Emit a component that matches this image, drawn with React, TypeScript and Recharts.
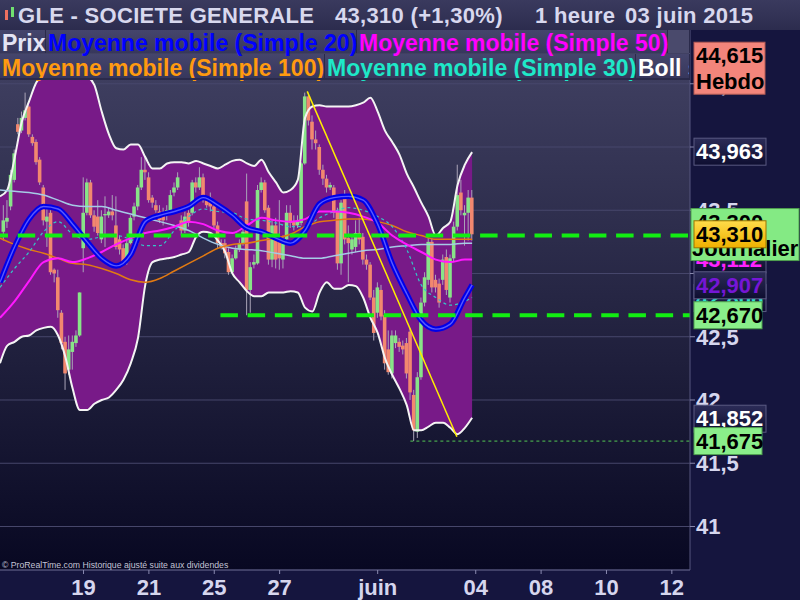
import React from 'react';
import { ComposedChart, XAxis, YAxis, CartesianGrid, Bar, Line, Area, ReferenceLine } from 'recharts';

// hourly candles, first one sits at bar index 1
const candleFirst = 1;
const candleOpen = [
  43.33, 43.41, 43.53, 43.74, 44.18, 44.13, 44.23, 44.32, 44.08, 44.04,
  43.90, 43.68, 43.41, 43.48, 43.03, 42.97, 42.69, 42.46, 42.24, 42.38,
  42.45, 42.51, 43.20, 43.48, 43.72, 43.46, 43.45, 43.27, 43.46, 43.46,
  43.49, 43.38, 43.27, 43.20, 43.09, 43.24, 43.45, 43.53, 43.68, 43.82,
  43.76, 43.60, 43.54, 43.49, 43.48, 43.46, 43.50, 43.64, 43.68, 43.42,
  43.34, 43.48, 43.48, 43.72, 43.68, 43.76, 43.58, 43.60, 43.53, 43.38,
  43.24, 43.24, 43.17, 43.01, 43.12, 43.19, 43.24, 43.57, 42.87, 43.07,
  43.08, 43.66, 43.72, 43.52, 43.11, 43.38, 43.26, 43.11, 43.27, 43.48,
  43.41, 43.38, 43.40, 43.87, 44.40, 44.20, 44.06, 44.00, 43.82, 43.75,
  43.68, 43.68, 43.49, 43.08, 43.60, 43.28, 43.19, 43.21, 43.32, 43.29,
  43.11, 43.07, 42.81, 42.69, 42.87, 42.67, 42.40, 42.21, 42.45, 42.46,
  42.43, 42.45, 42.54, 42.04, 41.75, 42.18, 42.77, 42.95, 43.25, 42.95,
  42.92, 42.95, 43.13, 42.81, 43.12, 43.37, 43.64, 43.46, 43.48, 43.60,
];
const candleHigh = [
  43.54, 43.58, 43.82, 43.98, 44.23, 44.28, 44.43, 44.33, 44.10, 44.06,
  43.92, 43.70, 43.53, 43.50, 43.04, 43.03, 42.71, 42.50, 42.51, 42.51,
  42.55, 42.85, 43.76, 43.75, 43.74, 43.50, 43.58, 43.50, 43.61, 43.52,
  43.62, 43.61, 43.30, 43.23, 43.27, 43.46, 43.56, 43.70, 43.92, 43.92,
  43.80, 43.62, 43.58, 43.54, 43.52, 43.54, 43.66, 43.72, 43.80, 43.46,
  43.49, 43.50, 43.74, 43.76, 43.84, 43.79, 43.61, 43.64, 43.56, 43.41,
  43.27, 43.27, 43.20, 43.15, 43.22, 43.27, 43.36, 43.79, 43.09, 43.15,
  43.70, 43.76, 43.74, 43.54, 43.43, 43.44, 43.58, 43.30, 43.54, 43.54,
  43.46, 43.46, 43.88, 44.43, 44.41, 44.25, 44.13, 44.02, 43.86, 43.78,
  43.72, 43.70, 43.52, 43.58, 43.66, 43.38, 43.30, 43.42, 43.44, 43.32,
  43.15, 43.09, 42.87, 42.93, 42.91, 42.71, 42.55, 42.55, 42.55, 42.49,
  42.47, 42.49, 42.57, 42.08, 42.22, 42.81, 43.01, 43.28, 43.28, 42.99,
  42.96, 43.15, 43.19, 43.15, 43.41, 43.86, 43.74, 43.54, 43.66, 43.66,
];
const candleLow = [
  43.26, 43.36, 43.50, 43.72, 44.10, 44.11, 44.21, 44.08, 44.01, 43.86,
  43.70, 43.38, 43.21, 42.99, 42.93, 42.65, 42.40, 42.08, 42.20, 42.24,
  42.42, 42.50, 43.01, 43.46, 43.44, 43.33, 43.30, 43.24, 43.21, 43.44,
  43.42, 43.19, 43.15, 43.06, 43.07, 43.23, 43.42, 43.50, 43.66, 43.74,
  43.56, 43.52, 43.48, 43.40, 43.38, 43.42, 43.49, 43.61, 43.66, 43.30,
  43.32, 43.37, 43.46, 43.64, 43.66, 43.56, 43.52, 43.49, 43.36, 43.20,
  43.19, 43.12, 42.99, 43.00, 43.11, 43.17, 43.22, 42.67, 42.69, 43.04,
  43.07, 43.64, 43.48, 43.07, 43.05, 43.04, 43.03, 43.04, 43.23, 43.36,
  43.34, 43.36, 43.38, 43.86, 44.17, 43.98, 43.98, 43.78, 43.70, 43.64,
  43.66, 43.44, 43.03, 42.99, 43.23, 42.93, 43.15, 43.17, 43.23, 43.07,
  43.03, 42.79, 42.47, 42.65, 42.63, 42.24, 42.20, 42.17, 42.41, 42.38,
  42.36, 42.17, 42.00, 41.675, 41.70, 42.16, 42.74, 42.91, 42.85, 42.85,
  42.73, 42.91, 42.83, 42.77, 43.09, 43.34, 43.46, 43.22, 43.26, 43.26,
];
const candleClose = [
  43.42, 43.44, 43.78, 43.95, 44.12, 44.23, 44.29, 44.10, 44.03, 43.88,
  43.72, 43.42, 43.45, 43.01, 43.00, 42.71, 42.45, 42.21, 42.40, 42.46,
  42.51, 42.85, 43.48, 43.72, 43.46, 43.37, 43.32, 43.45, 43.47, 43.49,
  43.46, 43.21, 43.19, 43.08, 43.24, 43.44, 43.53, 43.68, 43.82, 43.80,
  43.58, 43.56, 43.50, 43.42, 43.42, 43.50, 43.62, 43.68, 43.76, 43.34,
  43.45, 43.40, 43.72, 43.68, 43.76, 43.58, 43.54, 43.53, 43.38, 43.24,
  43.21, 43.16, 43.01, 43.12, 43.19, 43.24, 43.33, 42.87, 43.05, 43.09,
  43.66, 43.72, 43.50, 43.11, 43.38, 43.11, 43.12, 43.27, 43.48, 43.40,
  43.38, 43.41, 43.87, 44.40, 44.21, 44.06, 44.03, 43.82, 43.75, 43.68,
  43.70, 43.48, 43.08, 43.56, 43.27, 43.24, 43.27, 43.32, 43.27, 43.11,
  43.07, 42.81, 42.53, 42.89, 42.66, 42.29, 42.22, 42.51, 42.51, 42.42,
  42.40, 42.21, 42.06, 41.76, 42.18, 42.77, 42.97, 43.25, 42.89, 42.89,
  42.77, 43.11, 42.87, 43.12, 43.37, 43.62, 43.50, 43.48, 43.60, 43.31,
];

// bollinger bands, sampled every 2 bars
const bandIdx = [
  0, 2, 4, 6, 8, 10, 12, 14, 16, 18, 20, 22, 24, 26, 28, 30, 32, 34, 36, 38, 40, 42,
  44, 46, 48, 50, 52, 54, 56, 58, 60, 62, 64, 66, 68, 70, 72, 74, 76, 78, 80, 82, 84,
  86, 88, 90, 92, 94, 96, 98, 100, 102, 104, 106, 108, 110, 112, 114, 116, 118, 120,
  122, 124, 126, 128, 130,
];
const bandUpper = [
  43.61, 43.66, 43.91, 44.20, 44.36, 44.51, 44.57, 44.61, 44.63, 44.63,
  44.61, 44.59, 44.56, 44.49, 44.28, 44.10, 43.99, 43.98, 44.02, 44.02,
  43.92, 43.83, 43.83, 43.87, 43.88, 43.88, 43.87, 43.89, 43.87, 43.85,
  43.83, 43.86, 43.89, 43.90, 43.87, 43.85, 43.90, 43.80, 43.72, 43.64,
  43.66, 43.74, 44.23, 44.32, 44.33, 44.32, 44.32, 44.32, 44.32, 44.33,
  44.35, 44.39, 44.28, 44.13, 44.04, 43.94, 43.79, 43.68, 43.56, 43.45,
  43.30, 43.36, 43.41, 43.70, 43.86, 43.96,
];
const bandLower = [
  42.29, 42.43, 42.46, 42.50, 42.51, 42.55, 42.57, 42.58, 42.51, 42.34,
  42.09, 41.92, 41.92, 41.97, 42.00, 42.02, 42.08, 42.16, 42.29, 42.49,
  42.91, 43.09, 43.11, 43.12, 43.13, 43.15, 43.17, 43.29, 43.33, 43.32,
  43.26, 43.17, 43.00, 42.93, 42.86, 42.82, 42.82, 42.85, 42.85, 42.85,
  42.86, 42.85, 42.73, 42.70, 42.85, 42.93, 42.88, 42.88, 42.91, 42.90,
  42.81, 42.65, 42.53, 42.33, 42.20, 42.09, 41.96, 41.76, 41.76, 41.79,
  41.82, 41.82, 41.78, 41.73, 41.78, 41.86,
];

// moving averages, sampled every 4 bars
const maIdx = [
  0, 4, 8, 12, 16, 20, 24, 28, 32, 36, 40, 44, 48, 52, 56, 60, 64, 68, 72, 76, 80,
  84, 88, 92, 96, 100, 104, 108, 112, 116, 120, 124, 128, 130,
];
const ma20 = [
  42.93, 43.21, 43.43, 43.53, 43.51, 43.39, 43.25, 43.12, 43.06, 43.15,
  43.41, 43.46, 43.49, 43.53, 43.60, 43.54, 43.46, 43.36, 43.33, 43.28,
  43.24, 43.34, 43.55, 43.60, 43.61, 43.58, 43.39, 43.08, 42.84, 42.63,
  42.56, 42.60, 42.81, 42.91,
];
const ma50 = [
  42.65, 42.78, 42.94, 43.09, 43.12, 43.09, 43.12, 43.17, 43.23, 43.28,
  43.32, 43.34, 43.37, 43.41, 43.39, 43.34, 43.32, 43.38, 43.44, 43.42,
  43.41, 43.43, 43.49, 43.49, 43.48, 43.45, 43.40, 43.30, 43.23, 43.17,
  43.11, 43.09, 43.11, 43.11,
];
const ma100 = [
  43.28, 43.23, 43.19, 43.16, 43.12, 43.08, 43.07, 43.04, 43.00, 42.95,
  42.93, 42.96, 43.02, 43.08, 43.14, 43.20, 43.23, 43.24, 43.26, 43.28,
  43.31, 43.37, 43.41, 43.42, 43.43, 43.43, 43.41, 43.38, 43.33, 43.30,
  43.27, 43.27, 43.27, 43.27,
];
const ma30 = [
  42.89, 43.04, 43.17, 43.33, 43.41, 43.31, 43.27, 43.29, 43.30, 43.27,
  43.22, 43.22, 43.34, 43.45, 43.51, 43.49, 43.48, 43.43, 43.42, 43.40,
  43.37, 43.37, 43.44, 43.49, 43.52, 43.50, 43.45, 43.37, 43.19, 42.91,
  42.81, 42.75, 42.78, 42.81,
];
const maSlow = [
  43.66, 43.65, 43.64, 43.62, 43.58, 43.54, 43.53, 43.53, 43.50, 43.47,
  43.44, 43.41, 43.38, 43.34, 43.28, 43.23, 43.20, 43.19, 43.18, 43.16,
  43.14, 43.12, 43.12, 43.14, 43.16, 43.18, 43.19, 43.21, 43.22, 43.23,
  43.23, 43.23, 43.24, 43.24,
];

const dayTickIdx = [23, 41, 59, 77, 104, 131, 149, 167, 185];
const dayTickLabels = ['19', '21', '25', '27', 'juin', '04', '08', '10', '12'];
const priceTicks = [41, 41.5, 42, 42.5, 43, 43.5, 44, 44.5];
const priceDomain = [40.656, 44.925];
const barDomain = [0, 190];

const dailyLevel = 43.3;
const supportLevel = 42.67;
const supportFrom = 60.7;
const lowLevel = 41.675;
const lowFrom = 113;
const trendStart = { x: 84.6, y: 44.44 };
const trendEnd = { x: 125.8, y: 41.71 };

// right-hand price tags, drawn in this order
const tagValues = [44.615, 43.963, 43.112, 43.3, 43.31, 42.806, 42.907, 42.67, 41.852, 41.675];
const tagTexts = [
  ['44,615', 'Hebdo'], ['43,963'], ['43,112'], ['43,300', 'Journalier'], ['43,310'],
  ['42,806'], ['42,907'], ['42,670'], ['41,852'], ['41,675'],
];
const tagKinds = ['hebdo', 'dark', 'ma50', 'daily', 'gold', 'ma30', 'ma20', 'green', 'dark', 'green'];

const FONT = '"Liberation Sans", Arial, sans-serif';

const tagStyle: Record<string, { bg: string; fg: string; w: number; border: string }> = {
  hebdo: { bg: '#f3857b', fg: '#000', w: 71, border: '#b35a55' },
  dark: { bg: 'url(#tagDark)', fg: '#ffffff', w: 72, border: '#5a5a82' },
  ma50: { bg: 'url(#tagDark)', fg: '#ff22ff', w: 72, border: '#5a5a82' },
  ma30: { bg: 'url(#tagDark)', fg: '#30e0d0', w: 72, border: '#5a5a82' },
  ma20: { bg: 'url(#tagDark)', fg: '#7616d6', w: 72, border: '#5a5a82' },
  daily: { bg: '#84ea84', fg: '#000', w: 108, border: '#4f9f4f' },
  gold: { bg: 'url(#tagGold)', fg: '#000', w: 72, border: '#9a7400' },
  green: { bg: '#8aee8a', fg: '#000', w: 68, border: '#4f9f4f' },
};

function PriceTag({ viewBox, lines, kind }: any) {
  if (!viewBox) return null;
  const st = tagStyle[kind];
  const y = viewBox.y;
  const x = kind === 'daily' ? 691 : 694;
  const two = lines.length > 1;
  const top = two ? y - 27 : y - 13.5;
  const h = two ? 52 : 27;
  return (
    <g>
      <defs>
        <linearGradient id="tagDark" x1="0" y1="0" x2="0" y2="1">
          <stop offset="0%" stopColor="#2c2c58" />
          <stop offset="100%" stopColor="#0e0e30" />
        </linearGradient>
        <linearGradient id="tagGold" x1="0" y1="0" x2="0" y2="1">
          <stop offset="0%" stopColor="#ffdc4a" />
          <stop offset="100%" stopColor="#efb000" />
        </linearGradient>
      </defs>
      <rect x={x} y={top} width={st.w} height={h} fill={st.bg} stroke={st.border} strokeWidth={1} />
      {lines.map((t: string, k: number) => (
        <text key={k} x={kind === 'daily' && k === 1 ? 692 : 696} y={top + 21 + k * 26} fill={st.fg}
          fontFamily={FONT} fontSize={22} fontWeight="bold">{t}</text>
      ))}
    </g>
  );
}

function Candle(props: any) {
  const { x, y, width, height, payload } = props;
  if (!payload || height == null) return null;
  const { o, h, l, c } = payload;
  const span = h - l;
  const toY = (v: number) => (span > 0 ? y + ((h - v) / span) * height : y);
  const up = c >= o;
  const top = toY(Math.max(o, c));
  const bottom = toY(Math.min(o, c));
  const mid = x + width / 2;
  return (
    <g>
      <line x1={mid} x2={mid} y1={y} y2={y + height} stroke="#aaa4b8" strokeWidth={1} />
      <rect x={x - 0.3} y={top} width={width + 0.6} height={Math.max(1, bottom - top)}
        fill={up ? '#88e488' : '#f2886f'} />
    </g>
  );
}

// legend rows; the second row is listed first so the first row's descenders lie over it
const legendRows = [
  {
    top: 54, height: 24, lineHeight: '29px', items: [
      { text: 'Moyenne mobile (Simple 100)', color: '#ff9a10', left: 0, width: 325, clip: false },
      { text: 'Moyenne mobile (Simple 30)', color: '#1ee8c8', left: 325, width: 311, clip: false },
      { text: 'Boll sup', color: '#ffffff', left: 636, width: 54, clip: true },
    ],
  },
  {
    top: 30, height: 23, lineHeight: '26px', items: [
      { text: 'Prix', color: '#e4e4f4', left: 0, width: 46, clip: false },
      { text: 'Moyenne mobile (Simple 20)', color: '#0000ff', left: 46, width: 311, clip: false },
      { text: 'Moyenne mobile (Simple 50)', color: '#ff00ff', left: 357, width: 311, clip: false },
      { text: '', color: '#fff', left: 668, width: 22, clip: false },
    ],
  },
];

const titleParts = [
  { t: 'GLE - SOCIETE GENERALE', x: 18 },
  { t: '43,310 (+1,30%)', x: 335 },
  { t: '1 heure', x: 535 },
  { t: '03 juin 2015', x: 625 },
];

export default function App() {
  const rows = candleOpen.map((o, k) => ({
    i: candleFirst + k, o, h: candleHigh[k], l: candleLow[k], c: candleClose[k],
  }));
  const band = bandIdx.map((i, k) => ({ i, up: bandUpper[k], lo: bandLower[k] }));
  const ma = maIdx.map((i, k) => ({
    i, m20: ma20[k], m50: ma50[k], m100: ma100[k], m30: ma30[k], slow: maSlow[k],
  }));
  const dayLabel = (v: number) => dayTickLabels[dayTickIdx.indexOf(v)] ?? '';
  const tickFont = { fill: '#d6d6ee', fontSize: 22, fontWeight: 'bold', fontFamily: FONT };

  return (
    <div style={{ position: 'fixed', left: 0, top: 0, width: 800, height: 600, background: '#15153e', overflow: 'hidden', fontFamily: FONT }}>
      <div style={{ position: 'absolute', left: 0, top: 30, width: 690, height: 540, background: 'linear-gradient(#434365, #080822)' }} />

      {/* main chart */}
      <div style={{ position: 'absolute', left: 0, top: 0 }}>
        <ComposedChart width={800} height={600} data={rows} margin={{ top: 30, right: 0, bottom: 0, left: 0 }}>
          <CartesianGrid vertical={false} stroke="#47476c" />
          <XAxis type="number" dataKey="i" domain={barDomain} allowDataOverflow ticks={dayTickIdx} interval={0}
            tickFormatter={dayLabel} height={30} tickSize={4} tickMargin={5}
            axisLine={{ stroke: '#56567e' }} tickLine={{ stroke: '#8a8ab0' }} tick={tickFont} />
          <YAxis orientation="right" type="number" domain={priceDomain} allowDataOverflow ticks={priceTicks}
            interval={0} width={110} tickSize={5} tickMargin={1}
            tickFormatter={(v: number) => String(v).replace('.', ',')}
            axisLine={{ stroke: '#56567e' }} tickLine={{ stroke: '#8a8ab0' }} tick={tickFont} />

          <Area data={band} dataKey={(d: any) => [d.lo, d.up]} type="monotone" stroke="none"
            fill="#781a88" fillOpacity={1} isAnimationActive={false} />
          <Line data={band} dataKey="up" type="monotone" stroke="#f4f4f4" strokeWidth={2} dot={false} activeDot={false} isAnimationActive={false} />
          <Line data={band} dataKey="lo" type="monotone" stroke="#f4f4f4" strokeWidth={2} dot={false} activeDot={false} isAnimationActive={false} />

          <Bar dataKey={(d: any) => [d.l, d.h]} barSize={3} shape={Candle} isAnimationActive={false} />

          <Line data={ma} dataKey="slow" type="monotone" stroke="#a6cbe6" strokeWidth={1.5} dot={false} activeDot={false} isAnimationActive={false} />
          <Line data={ma} dataKey="m100" type="monotone" stroke="#e27a12" strokeWidth={1.5} dot={false} activeDot={false} isAnimationActive={false} />
          <Line data={ma} dataKey="m30" type="monotone" stroke="#34c8c8" strokeWidth={1.2} strokeDasharray="3 3" dot={false} activeDot={false} isAnimationActive={false} />
          <Line data={ma} dataKey="m50" type="monotone" stroke="#ff18ff" strokeWidth={2} dot={false} activeDot={false} isAnimationActive={false} />
          <Line data={ma} dataKey="m20" type="monotone" stroke="#0000e8" strokeWidth={5.5} dot={false} activeDot={false} isAnimationActive={false} />
          <Line data={ma} dataKey="m20" type="monotone" stroke="#5858ff" strokeWidth={1.4} dot={false} activeDot={false} isAnimationActive={false} />

          <ReferenceLine y={dailyLevel} stroke="#12ee12" strokeWidth={4} strokeDasharray="17.5 9.7" strokeDashoffset={-2} />
          <ReferenceLine segment={[{ x: supportFrom, y: supportLevel }, { x: 190, y: supportLevel }]}
            stroke="#12ee12" strokeWidth={4} strokeDasharray="17.5 9.7" />
          <ReferenceLine segment={[{ x: lowFrom, y: lowLevel }, { x: 190, y: lowLevel }]}
            stroke="#52c852" strokeWidth={1} strokeDasharray="3 3" />
          <ReferenceLine segment={[trendStart, trendEnd]} stroke="#ffee00" strokeWidth={1.5} />
        </ComposedChart>
      </div>

      {/* price tags on a twin chart with the same scales, so they sit above the axis labels */}
      <div style={{ position: 'absolute', left: 0, top: 0 }}>
        <ComposedChart width={800} height={600} data={rows} margin={{ top: 30, right: 110, bottom: 30, left: 0 }}>
          <XAxis type="number" dataKey="i" domain={barDomain} allowDataOverflow hide />
          <YAxis type="number" domain={priceDomain} allowDataOverflow hide />
          {tagValues.map((v, k) => (
            <ReferenceLine key={k} y={v} stroke="none"
              label={(p: any) => <PriceTag viewBox={p.viewBox} lines={tagTexts[k]} kind={tagKinds[k]} />} />
          ))}
        </ComposedChart>
      </div>

      {/* title bar */}
      <div style={{ position: 'absolute', left: 0, top: 0, width: 800, height: 30, background: 'linear-gradient(#3a3a5e, #2c2c4e)' }} />
      <div style={{ position: 'absolute', left: 5, top: 10, width: 3, height: 10, background: '#f07060' }} />
      <div style={{ position: 'absolute', left: 11, top: 7, width: 3, height: 10, background: '#70e070' }} />
      {titleParts.map((s) => (
        <div key={s.t} style={{ position: 'absolute', left: s.x, top: 0, height: 30, lineHeight: '32px', fontSize: 22, fontWeight: 'bold', color: '#d8d8ee', whiteSpace: 'nowrap', letterSpacing: 0.3 }}>{s.t}</div>
      ))}

      {/* legend rows */}
      {legendRows.map((row) => (
        <div key={row.top} style={{ position: 'absolute', left: 0, top: row.top, width: 690, height: row.height, background: '#2a2a4a' }}>
          {row.items.map((it) => (
            <div key={it.left} style={{
              position: 'absolute', left: it.left, top: 0, width: it.width - 1, height: '100%',
              background: it.text ? 'linear-gradient(#45456c, #37375c)' : '#4a4a6c', color: it.color,
              fontSize: 23, fontWeight: 'bold', lineHeight: row.lineHeight, paddingLeft: 2, boxSizing: 'border-box',
              whiteSpace: 'nowrap', overflow: it.clip ? 'hidden' : 'visible',
            }}>{it.text}</div>
          ))}
        </div>
      ))}
      <div style={{ position: 'absolute', left: 0, top: 78, width: 690, height: 2, background: '#2a2a4a' }} />

      <div style={{ position: 'absolute', left: 2, top: 560, fontSize: 8.7, color: '#c4c4d6', whiteSpace: 'nowrap' }}>
        © ProRealTime.com  Historique ajusté suite aux dividendes
      </div>
    </div>
  );
}
